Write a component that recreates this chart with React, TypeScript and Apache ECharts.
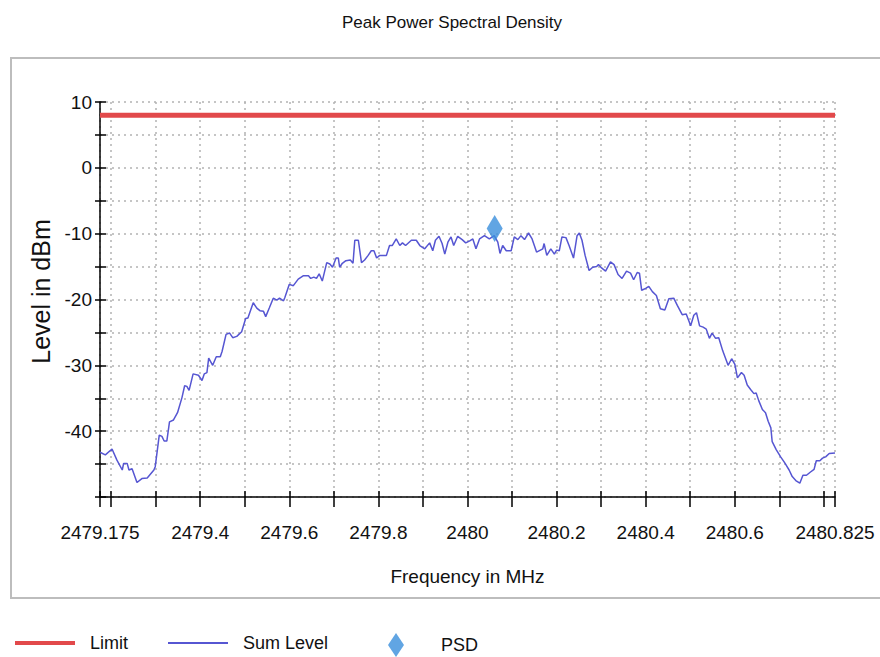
import React, { useEffect, useRef } from 'react';
import * as echarts from 'echarts';

const FONT = "'Liberation Sans', Arial, Helvetica, sans-serif";

const chartTitle = 'Peak Power Spectral Density';
const xName = 'Frequency in MHz';
const yName = 'Level in dBm';

const xMin = 2479.175;
const xMax = 2480.825;
const yMin = -50;
const yMax = 10;
const yStep = 5;

const xTickValues = [
  2479.175, 2479.2, 2479.3, 2479.4, 2479.5, 2479.6, 2479.7, 2479.8, 2479.9,
  2480.0, 2480.1, 2480.2, 2480.3, 2480.4, 2480.5, 2480.6, 2480.7, 2480.8, 2480.825,
];
const xLabelValues = [2479.175, 2479.4, 2479.6, 2479.8, 2480.0, 2480.2, 2480.4, 2480.6, 2480.825];
const yLabelValues = [10, 0, -10, -20, -30, -40];

const limitFreq = [2479.175, 2480.825];
const limitLevel = [8, 8];

const psdFreq = [2480.061];
const psdLevel = [-9.2];

const freqMHz = [
  2479.175, 2479.187, 2479.202, 2479.213, 2479.225, 2479.228, 2479.236, 2479.24, 2479.247, 2479.258,
  2479.269, 2479.281, 2479.296, 2479.299, 2479.308, 2479.314, 2479.319, 2479.325, 2479.331, 2479.34,
  2479.349, 2479.359, 2479.365, 2479.37, 2479.375, 2479.384, 2479.396, 2479.404, 2479.409, 2479.415,
  2479.419, 2479.428, 2479.436, 2479.445, 2479.449, 2479.458, 2479.466, 2479.473, 2479.482, 2479.493,
  2479.502, 2479.507, 2479.519, 2479.527, 2479.534, 2479.542, 2479.547, 2479.555, 2479.564, 2479.572,
  2479.578, 2479.587, 2479.59, 2479.6, 2479.609, 2479.62, 2479.631, 2479.643, 2479.648, 2479.655,
  2479.661, 2479.667, 2479.674, 2479.684, 2479.691, 2479.697, 2479.705, 2479.71, 2479.713, 2479.719,
  2479.727, 2479.737, 2479.743, 2479.747, 2479.755, 2479.762, 2479.769, 2479.777, 2479.784, 2479.79,
  2479.796, 2479.803, 2479.818, 2479.825, 2479.831, 2479.84, 2479.848, 2479.854, 2479.861, 2479.874,
  2479.885, 2479.893, 2479.904, 2479.915, 2479.922, 2479.928, 2479.936, 2479.943, 2479.949, 2479.956,
  2479.963, 2479.969, 2479.978, 2479.988, 2479.996, 2480.005, 2480.012, 2480.019, 2480.027, 2480.038,
  2480.049, 2480.06, 2480.068, 2480.073, 2480.079, 2480.087, 2480.098, 2480.105, 2480.113, 2480.12,
  2480.128, 2480.137, 2480.145, 2480.155, 2480.169, 2480.172, 2480.178, 2480.187, 2480.195, 2480.2,
  2480.206, 2480.212, 2480.221, 2480.228, 2480.238, 2480.246, 2480.251, 2480.257, 2480.264, 2480.273,
  2480.281, 2480.29, 2480.294, 2480.301, 2480.31, 2480.321, 2480.329, 2480.338, 2480.347, 2480.357,
  2480.366, 2480.373, 2480.381, 2480.386, 2480.391, 2480.4, 2480.407, 2480.415, 2480.424, 2480.433,
  2480.443, 2480.452, 2480.463, 2480.471, 2480.482, 2480.491, 2480.501, 2480.508, 2480.514, 2480.521,
  2480.529, 2480.536, 2480.543, 2480.549, 2480.557, 2480.564, 2480.573, 2480.585, 2480.593, 2480.6,
  2480.606, 2480.615, 2480.621, 2480.628, 2480.636, 2480.643, 2480.648, 2480.654, 2480.662, 2480.669,
  2480.675, 2480.681, 2480.684, 2480.693, 2480.703, 2480.713, 2480.722, 2480.729, 2480.737, 2480.746,
  2480.753, 2480.761, 2480.77, 2480.778, 2480.783, 2480.791, 2480.797, 2480.804, 2480.812, 2480.825,
];

const sumLevel = [
  -43.2, -43.6, -42.7, -44.4, -45.9, -44.9, -44.9, -45.9, -45.7, -47.8,
  -47.2, -47.1, -45.9, -45.4, -40.6, -40.8, -41.5, -41.5, -38.6, -38.3,
  -37.2, -34.9, -33.1, -33.2, -33.8, -31.3, -31.5, -32.3, -31.3, -31.1,
  -28.9, -30.0, -28.7, -28.7, -27.9, -25.3, -25.1, -25.8, -25.6, -24.9,
  -22.9, -22.8, -20.5, -21.3, -21.7, -21.8, -22.6, -21.3, -19.8, -20.1,
  -19.8, -20.2, -19.7, -17.7, -17.9, -16.9, -16.4, -16.4, -16.8, -16.6,
  -16.8, -16.1, -17.2, -14.4, -14.6, -15.1, -13.7, -13.7, -15.1, -14.5,
  -14.1, -14.0, -14.5, -11.0, -11.0, -14.4, -14.0, -13.3, -12.6, -12.6,
  -13.7, -13.3, -13.3, -11.8, -11.8, -10.8, -11.8, -11.4, -11.8, -11.0,
  -11.0, -11.8, -12.3, -11.4, -12.6, -11.0, -10.4, -11.5, -13.1, -11.3,
  -10.5, -11.8, -10.4, -10.9, -11.4, -11.1, -10.8, -12.3, -10.8, -10.3,
  -10.8, -10.3, -11.3, -13.0, -11.8, -12.6, -12.6, -10.5, -10.9, -10.3,
  -10.9, -9.9, -10.8, -12.8, -12.3, -11.5, -13.3, -12.3, -13.1, -12.5,
  -12.6, -10.5, -10.6, -11.8, -13.7, -10.3, -9.9, -11.0, -13.3, -15.6,
  -15.1, -15.0, -14.7, -15.2, -15.7, -14.3, -14.7, -16.2, -16.8, -15.7,
  -16.0, -17.0, -15.9, -16.0, -18.6, -18.3, -18.0, -18.8, -19.4, -21.4,
  -21.6, -19.9, -19.8, -20.9, -22.3, -22.2, -24.0, -22.4, -22.0, -24.0,
  -24.2, -24.5, -25.9, -25.1, -25.9, -25.8, -27.8, -30.0, -29.0, -29.8,
  -31.9, -31.1, -31.5, -33.0, -33.7, -34.3, -34.2, -35.4, -36.7, -37.2,
  -38.5, -39.5, -41.6, -42.8, -43.9, -44.9, -45.9, -46.9, -47.5, -47.9,
  -46.7, -46.7, -46.2, -45.8, -44.5, -44.5, -44.1, -43.9, -43.4, -43.3,
];

const LIMIT_COLOR = '#e2494b';
const SUM_COLOR = '#5656d2';
const PSD_COLOR = '#3a8fdc';

const zip = (xs: number[], ys: number[]) => xs.map((x, i) => [x, ys[i]]);

const fmtX = (v: number) => String(parseFloat(Number(v).toFixed(3)));

export default function App() {
  const ref = useRef<HTMLDivElement>(null);

  useEffect(() => {
    document.body.style.margin = '0';
    if (!ref.current) return;
    const chart = echarts.init(ref.current, undefined, { renderer: 'svg' });

    const gridLine = { show: true, lineStyle: { color: '#b3b3b3', type: [2, 4] as any, width: 1.5 } };
    const axisBlack = { color: '#000', width: 1.5 };

    chart.setOption({
      animation: false,
      backgroundColor: '#fff',
      title: {
        text: chartTitle,
        left: 447,
        textAlign: 'center',
        top: 9,
        textStyle: { fontFamily: FONT, fontSize: 17, fontWeight: 'normal', color: '#111' },
      },
      graphic: [
        {
          type: 'rect',
          shape: { x: 11, y: 58, width: 900, height: 540 },
          style: { fill: 'none', stroke: '#bdbdbd', lineWidth: 2 },
          z: -10,
        },
      ],
      grid: { left: 100, right: 45, top: 102, bottom: 160 },
      xAxis: [
        {
          type: 'value',
          position: 'bottom',
          min: xMin,
          max: xMax,
          name: xName,
          nameLocation: 'middle',
          nameGap: 70,
          nameTextStyle: { fontFamily: FONT, fontSize: 19, color: '#111' },
          axisLine: { show: true, onZero: false, lineStyle: axisBlack },
          axisTick: { show: true, inside: false, length: 10, customValues: xTickValues, lineStyle: axisBlack },
          axisLabel: {
            customValues: xLabelValues,
            formatter: fmtX,
            margin: 26,
            fontFamily: FONT,
            fontSize: 19,
            color: '#111',
          },
          splitLine: gridLine,
        },
        {
          type: 'value',
          position: 'bottom',
          min: xMin,
          max: xMax,
          axisLine: { show: false, onZero: false },
          axisTick: { show: true, inside: true, length: 6, customValues: xTickValues, lineStyle: axisBlack },
          axisLabel: { show: false },
          splitLine: { show: false },
        },
      ],
      yAxis: [
        {
          type: 'value',
          position: 'left',
          min: yMin,
          max: yMax,
          interval: yStep,
          name: yName,
          nameLocation: 'middle',
          nameGap: 33,
          nameTextStyle: { fontFamily: FONT, fontSize: 25, color: '#111', padding: [0, 0, 0, 16] },
          axisLine: { show: true, onZero: false, lineStyle: axisBlack },
          axisTick: { show: true, inside: false, length: 5, lineStyle: axisBlack },
          axisLabel: {
            formatter: (v: number) => (yLabelValues.indexOf(v) >= 0 ? String(v) : ''),
            margin: 8,
            fontFamily: FONT,
            fontSize: 19,
            color: '#111',
          },
          splitLine: gridLine,
        },
        {
          type: 'value',
          position: 'left',
          min: yMin,
          max: yMax,
          interval: yStep,
          axisLine: { show: false, onZero: false },
          axisTick: { show: true, inside: true, length: 6, lineStyle: axisBlack },
          axisLabel: { show: false },
          splitLine: { show: false },
        },
      ],
      legend: [
        {
          data: [{ name: 'Limit', icon: 'rect' }],
          left: 10,
          top: 629,
          itemWidth: 60,
          itemHeight: 4,
          textStyle: { fontFamily: FONT, fontSize: 18, color: '#111', padding: [0, 0, 0, 10] },
        },
        {
          data: [{ name: 'Sum Level', icon: 'rect' }],
          left: 163,
          top: 629,
          itemWidth: 60,
          itemHeight: 2,
          textStyle: { fontFamily: FONT, fontSize: 18, color: '#111', padding: [0, 0, 0, 10] },
        },
        {
          data: [{ name: 'PSD', icon: 'diamond' }],
          left: 383,
          top: 628,
          itemWidth: 16,
          itemHeight: 24,
          textStyle: { fontFamily: FONT, fontSize: 18, color: '#111', padding: [0, 0, 0, 32] },
        },
      ],
      series: [
        {
          name: 'Limit',
          type: 'line',
          xAxisIndex: 0,
          yAxisIndex: 0,
          data: zip(limitFreq, limitLevel),
          symbol: 'none',
          color: LIMIT_COLOR,
          lineStyle: { color: LIMIT_COLOR, width: 5 },
          z: 3,
        },
        {
          name: 'Sum Level',
          type: 'line',
          xAxisIndex: 0,
          yAxisIndex: 0,
          data: zip(freqMHz, sumLevel),
          symbol: 'none',
          color: SUM_COLOR,
          lineStyle: { color: SUM_COLOR, width: 1.5 },
          z: 4,
        },
        {
          name: 'PSD',
          type: 'scatter',
          xAxisIndex: 0,
          yAxisIndex: 0,
          data: zip(psdFreq, psdLevel),
          symbol: 'diamond',
          symbolSize: [16, 27],
          color: PSD_COLOR,
          itemStyle: { color: PSD_COLOR },
          z: 5,
        },
      ],
    });

    return () => chart.dispose();
  }, []);

  return <div ref={ref} style={{ width: 880, height: 657 }} />;
}
